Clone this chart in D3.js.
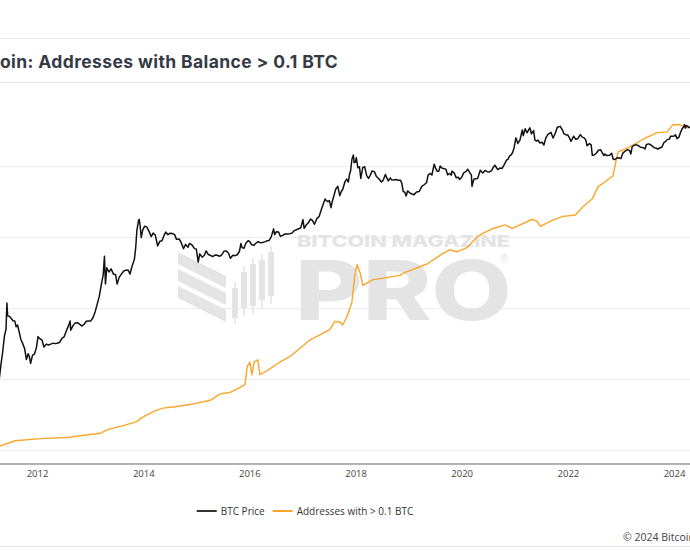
<!DOCTYPE html>
<html><head><meta charset="utf-8">
<script src="https://cdn.jsdelivr.net/npm/d3@7"></script>
<style>html,body{margin:0;padding:0;background:#fff;overflow:hidden}svg{display:block}</style>
</head><body><svg id="c" width="690" height="550"></svg>
<script>
// ---------- data ----------
const titleText = "Bitcoin: Addresses with Balance > 0.1 BTC";
const creditText = "© 2024 Bitcoin Magazine Pro";
const seriesNames = ["BTC Price", "Addresses with > 0.1 BTC"];
const yearTicks = [2012, 2014, 2016, 2018, 2020, 2022, 2024];
const addrTicks = [0, 1, 2, 3, 4]; // millions (right axis, gridlines)

const priceDates = [
"2010-07-18","2010-08-15","2010-09-15","2010-10-10","2010-11-06","2010-11-20","2010-12-15",
"2011-01-05","2011-01-25","2011-02-10","2011-02-25","2011-03-15","2011-04-01","2011-04-15","2011-04-28","2011-05-10","2011-05-22","2011-06-02","2011-06-08","2011-06-13","2011-06-25","2011-07-05","2011-07-20","2011-08-01","2011-08-10","2011-08-20","2011-09-01","2011-09-12","2011-09-25","2011-10-08","2011-10-20","2011-11-01","2011-11-10","2011-11-18","2011-12-01","2011-12-15","2011-12-28",
"2012-01-08","2012-01-20","2012-02-05","2012-02-18","2012-03-05","2012-03-20","2012-04-05","2012-04-20","2012-05-05","2012-05-20","2012-06-05","2012-06-20","2012-07-05","2012-07-20","2012-08-05","2012-08-16","2012-08-20","2012-09-05","2012-09-20","2012-10-05","2012-10-20","2012-11-05","2012-11-20","2012-12-05","2012-12-20",
"2013-01-05","2013-01-20","2013-02-05","2013-02-20","2013-03-05","2013-03-20","2013-04-01","2013-04-09","2013-04-16","2013-04-25","2013-05-10","2013-05-25","2013-06-10","2013-06-25","2013-07-05","2013-07-20","2013-08-05","2013-08-20","2013-09-05","2013-09-20","2013-10-02","2013-10-15","2013-11-01","2013-11-10","2013-11-18","2013-11-30","2013-12-04","2013-12-10","2013-12-18","2013-12-28",
"2014-01-10","2014-01-25","2014-02-10","2014-02-25","2014-03-10","2014-03-25","2014-04-10","2014-04-25","2014-05-10","2014-05-25","2014-06-05","2014-06-20","2014-07-05","2014-07-20","2014-08-05","2014-08-18","2014-09-05","2014-09-20","2014-10-05","2014-10-20","2014-11-05","2014-11-15","2014-12-01","2014-12-20",
"2015-01-01","2015-01-14","2015-01-25","2015-02-10","2015-02-25","2015-03-10","2015-03-25","2015-04-10","2015-04-25","2015-05-10","2015-05-25","2015-06-10","2015-06-25","2015-07-10","2015-07-25","2015-08-10","2015-08-24","2015-09-10","2015-09-25","2015-10-10","2015-10-25","2015-11-04","2015-11-12","2015-11-25","2015-12-10","2015-12-25",
"2016-01-05","2016-01-16","2016-02-01","2016-02-15","2016-03-01","2016-03-15","2016-04-01","2016-04-15","2016-05-01","2016-05-15","2016-05-30","2016-06-16","2016-06-23","2016-07-05","2016-07-20","2016-08-02","2016-08-20","2016-09-05","2016-09-20","2016-10-05","2016-10-20","2016-11-05","2016-11-20","2016-12-05","2016-12-20",
"2017-01-04","2017-01-12","2017-01-25","2017-02-10","2017-02-25","2017-03-10","2017-03-24","2017-04-10","2017-04-25","2017-05-10","2017-05-25","2017-06-05","2017-06-12","2017-06-25","2017-07-05","2017-07-16","2017-07-25","2017-08-05","2017-08-17","2017-09-01","2017-09-14","2017-09-25","2017-10-05","2017-10-20","2017-11-01","2017-11-12","2017-11-20","2017-11-28","2017-12-07","2017-12-17","2017-12-22","2017-12-30",
"2018-01-06","2018-01-17","2018-01-28","2018-02-06","2018-02-20","2018-03-05","2018-03-18","2018-03-31","2018-04-12","2018-04-24","2018-05-10","2018-05-25","2018-06-10","2018-06-28","2018-07-10","2018-07-25","2018-08-05","2018-08-14","2018-08-28","2018-09-05","2018-09-20","2018-10-05","2018-10-20","2018-11-05","2018-11-15","2018-11-25","2018-12-05","2018-12-15","2018-12-25",
"2019-01-10","2019-01-28","2019-02-07","2019-02-25","2019-03-15","2019-04-02","2019-04-20","2019-05-05","2019-05-15","2019-05-30","2019-06-10","2019-06-26","2019-07-05","2019-07-16","2019-07-28","2019-08-06","2019-08-20","2019-09-05","2019-09-15","2019-09-26","2019-10-10","2019-10-22","2019-10-26","2019-11-10","2019-11-25","2019-12-10","2019-12-17","2019-12-31",
"2020-01-15","2020-02-01","2020-02-12","2020-02-28","2020-03-08","2020-03-12","2020-03-25","2020-04-05","2020-04-20","2020-05-08","2020-05-25","2020-06-10","2020-06-25","2020-07-10","2020-07-25","2020-08-05","2020-08-17","2020-09-05","2020-09-20","2020-10-05","2020-10-21","2020-11-05","2020-11-15","2020-11-25","2020-12-05","2020-12-16","2020-12-27",
"2021-01-08","2021-01-22","2021-02-05","2021-02-21","2021-02-28","2021-03-13","2021-03-25","2021-04-14","2021-04-25","2021-05-10","2021-05-19","2021-05-30","2021-06-10","2021-06-22","2021-07-05","2021-07-20","2021-08-01","2021-08-15","2021-09-06","2021-09-21","2021-10-05","2021-10-20","2021-11-09","2021-11-25","2021-12-04","2021-12-20","2021-12-31",
"2022-01-10","2022-01-22","2022-02-10","2022-02-24","2022-03-10","2022-03-28","2022-04-10","2022-04-25","2022-05-05","2022-05-12","2022-05-30","2022-06-10","2022-06-18","2022-07-01","2022-07-15","2022-07-30","2022-08-13","2022-08-25","2022-09-06","2022-09-13","2022-09-25","2022-10-15","2022-10-29","2022-11-09","2022-11-21","2022-12-05","2022-12-20",
"2023-01-01","2023-01-14","2023-01-30","2023-02-15","2023-03-01","2023-03-10","2023-03-20","2023-04-13","2023-04-28","2023-05-15","2023-06-01","2023-06-15","2023-06-25","2023-07-13","2023-07-30","2023-08-17","2023-09-01","2023-09-11","2023-09-25","2023-10-10","2023-10-23","2023-11-05","2023-11-15","2023-12-01","2023-12-08","2023-12-20",
"2024-01-01","2024-01-11","2024-01-22","2024-02-05","2024-02-15","2024-02-28","2024-03-05","2024-03-14","2024-03-20","2024-03-27","2024-04-05","2024-04-13","2024-04-20"
];
const priceValues = [
0.09,0.07,0.06,0.10,0.39,0.28,0.25,
0.30,0.42,1.05,0.90,0.88,0.78,1.0,2.0,3.5,7.0,9.5,29.6,17,16.5,15.4,13.6,13.5,10.5,11.3,8.2,6.0,5.0,4.0,2.5,3.2,2.8,2.1,3.0,3.2,4.2,
6.8,6.2,5.8,4.3,4.9,4.7,4.9,5.1,5.0,5.1,5.3,6.3,6.7,8.6,11.0,13.5,9.0,11.0,12.4,12.5,11.7,10.8,11.7,13.3,13.5,
13.5,15.5,20.5,29.5,40,70,104,230,68,138,115,132,105,102,68,92,106,120,125,124,105,145,200,330,700,1100,1150,900,520,720,
850,830,680,540,630,580,360,440,450,580,660,590,630,620,590,480,490,410,320,385,340,400,380,320,
315,178,255,220,237,290,247,237,226,242,239,229,243,284,290,265,210,240,235,245,285,400,335,325,415,455,
432,380,372,405,433,415,417,430,450,455,530,760,590,670,665,545,580,608,610,612,630,705,730,765,800,
1140,780,890,995,1170,1100,930,1200,1300,1750,2300,2800,2650,2500,2620,1920,2550,3230,4300,4900,3250,3900,4300,6000,6700,5900,8200,9800,16000,19300,13800,14000,
17200,11000,11500,6900,11200,11500,7900,6900,7900,9600,9300,7500,6800,5900,6400,8200,7000,6200,7100,6500,6450,6600,6400,6400,5600,3900,3800,3200,4000,
3650,3450,3400,3830,3900,4900,5300,5800,8000,8600,8000,12900,11000,9500,9500,11900,10800,10600,10300,8100,8600,8000,9500,8800,7100,7300,6600,7200,
8800,9400,10300,8700,8000,4900,6700,6800,6900,9900,8800,9800,9300,9200,9700,11200,12300,10200,10900,10700,12800,15500,16000,18500,19100,21300,26500,
40800,32000,37000,57500,45000,61000,51000,63500,49000,56000,37000,35600,37000,32500,34000,29800,40000,47000,52000,40500,49000,65000,67500,57000,49000,46500,46300,
41800,35000,44000,38300,39400,47100,42200,40400,36500,29000,31800,30100,19000,19300,20800,23800,24400,21500,18800,20200,18800,19100,20800,16000,15800,17100,16900,
16600,20900,22800,24300,23600,20200,28200,30400,29300,27200,26800,25100,30500,31400,29300,26600,25900,25100,26200,27400,33000,35000,37800,38700,44000,43600,
44200,46600,39500,42700,52000,62500,63800,73000,62500,69900,67800,64000,64900
];

const addrDates = [
"2010-07-18","2011-01-08","2011-04-20","2011-08-04","2012-01-22","2012-08-14","2012-10-23","2013-03-10","2013-05-05","2013-08-28",
"2013-11-17","2013-12-24","2014-03-22","2014-05-15","2014-08-08","2014-11-18","2015-04-06","2015-06-14","2015-08-22","2015-10-27",
"2015-12-02","2015-12-17","2016-01-04","2016-01-19","2016-02-03","2016-02-28","2016-03-14","2016-04-19","2016-07-31","2016-10-08",
"2016-12-13","2017-02-21","2017-05-01","2017-07-09","2017-08-11","2017-09-16","2017-10-05","2017-11-03","2017-12-06","2017-12-28",
"2018-01-11","2018-02-02","2018-02-20","2018-05-01","2018-07-09","2018-11-03","2018-11-25","2019-05-08","2019-08-26","2019-10-12",
"2019-11-29","2020-02-06","2020-04-16","2020-05-26","2020-07-13","2020-08-04","2020-10-27","2020-12-13","2021-02-06","2021-05-01",
"2021-06-03","2021-06-25","2021-09-21","2021-11-29","2022-02-21","2022-04-16","2022-06-18","2022-07-28","2022-09-28","2022-11-07",
"2022-11-29","2022-12-13","2023-03-04","2023-06-03","2023-09-06","2023-11-14","2023-12-24","2024-02-10","2024-04-02","2024-04-20"
];
const addrValues = [ // millions of addresses
0.00,0.02,0.056,0.13,0.16,0.18,0.20,0.235,0.29,0.35,
0.40,0.46,0.55,0.59,0.61,0.64,0.70,0.79,0.81,0.88,
0.92,1.17,1.24,1.06,1.24,1.27,1.06,1.10,1.24,1.32,
1.43,1.55,1.62,1.70,1.81,1.80,1.76,1.88,2.07,2.49,
2.61,2.49,2.32,2.40,2.42,2.46,2.49,2.62,2.77,2.82,
2.79,2.85,3.00,3.05,3.10,3.12,3.17,3.12,3.17,3.25,
3.22,3.15,3.24,3.29,3.31,3.43,3.54,3.71,3.80,3.86,
4.08,4.20,4.27,4.38,4.47,4.48,4.58,4.58,4.54,4.54
];

// ---------- chart ----------
const W = 690, H = 550;
const svg = d3.select("#c");
const parse = d3.utcParse("%Y-%m-%d");
const yearDate = y => new Date(Date.UTC(y, 0, 1));

const x = d3.scaleUtc().domain([yearDate(2012), yearDate(2024)]).range([37, 674]);
const yPrice = d3.scaleLog().domain([1, 1e5]).range([380.4, 117.4]);
const yAddr = d3.scaleLinear().domain([0, 4]).range([450, 166]);

const plotTop = 83, plotBottom = 464;

const priceData = priceDates.map((d, i) => ({ date: parse(d), v: priceValues[i] }));
const addrData = addrDates.map((d, i) => ({ date: parse(d), v: addrValues[i] }));

// frame lines
const frame = [38.5, 82.5, 546.5];
svg.selectAll("line.frame").data(frame).join("line")
  .attr("class", "frame").attr("x1", 0).attr("x2", W)
  .attr("y1", d => d).attr("y2", d => d)
  .attr("stroke", "#e6e6e6").attr("stroke-width", 1.2);

// title: the page is cropped so the first letters fall off the left edge, as in the reference
const title = svg.append("text").text(titleText)
  .attr("x", 338).attr("y", 68).attr("text-anchor", "end")
  .attr("font-family", "Inter, 'Open Sans', sans-serif")
  .attr("font-weight", 700).attr("font-size", 17.5).attr("fill", "#343b44");
{
  const n = titleText.length;
  const visW = title.node().getSubStringLength(4, n - 4);
  const ls = (338 - visW) / (n - 4);
  title.attr("letter-spacing", ls.toFixed(3));
}

// gridlines from right (address) axis
svg.append("g").selectAll("line").data(addrTicks).join("line")
  .attr("x1", 0).attr("x2", W)
  .attr("y1", d => Math.round(yAddr(d)) + 0.5).attr("y2", d => Math.round(yAddr(d)) + 0.5)
  .attr("stroke", "#ececec").attr("stroke-width", 1);

// watermark
const wm = svg.append("g").attr("fill", "#e4e4e4");
const bands = [0, 17, 34];
wm.selectAll("path.band").data(bands).join("path").attr("class", "band")
  .attr("d", o => `M178,${252 + o} L226,${276 + o} L226,${288 + o} L178,${264 + o} Z`);
const candles = [
  { cx: 235, wt: 282, bt: 288, bb: 318, wb: 324 },
  { cx: 244, wt: 266, bt: 272, bb: 308, wb: 316 },
  { cx: 253, wt: 258, bt: 264, bb: 306, wb: 314 },
  { cx: 262, wt: 254, bt: 260, bb: 300, wb: 308 },
  { cx: 271, wt: 246, bt: 252, bb: 296, wb: 304 }
];
candles.forEach(c => {
  wm.append("rect").attr("x", c.cx - 0.75).attr("y", c.wt).attr("width", 1.5).attr("height", c.wb - c.wt);
  wm.append("rect").attr("x", c.cx - 3).attr("y", c.bt).attr("width", 6).attr("height", c.bb - c.bt);
});
wm.append("text").text("BITCOIN MAGAZINE")
  .attr("x", 297).attr("y", 247).attr("font-family", "Inter, 'Open Sans', sans-serif")
  .attr("font-weight", 800).attr("font-size", 16)
  .attr("textLength", 213).attr("lengthAdjust", "spacingAndGlyphs");
wm.append("text").text("PRO")
  .attr("x", 295).attr("y", 320).attr("font-family", "Inter, 'Open Sans', sans-serif")
  .attr("font-weight", 800).attr("font-size", 82)
  .attr("textLength", 217).attr("lengthAdjust", "spacingAndGlyphs");
wm.append("text").text("®")
  .attr("x", 500).attr("y", 262).attr("font-family", "sans-serif").attr("font-size", 11);

// clip
svg.append("clipPath").attr("id", "plotclip").append("rect")
  .attr("x", 0).attr("y", plotTop).attr("width", W).attr("height", plotBottom - plotTop);

const lineAddr = d3.line().x(d => x(d.date)).y(d => yAddr(d.v));
const linePrice = d3.line().x(d => x(d.date)).y(d => yPrice(d.v));

const plot = svg.append("g").attr("clip-path", "url(#plotclip)");
plot.append("path").datum(addrData).attr("d", lineAddr)
  .attr("fill", "none").attr("stroke", "#fba52a").attr("stroke-width", 1.4)
  .attr("stroke-linejoin", "round");
plot.append("path").datum(priceData).attr("d", linePrice)
  .attr("fill", "none").attr("stroke", "#111").attr("stroke-width", 1.5)
  .attr("stroke-linejoin", "round");

// x axis
svg.append("line").attr("x1", 0).attr("x2", W).attr("y1", plotBottom).attr("y2", plotBottom)
  .attr("stroke", "#9a9a9a").attr("stroke-width", 1.6);
const xAxis = d3.axisBottom(x).tickValues(yearTicks.map(yearDate))
  .tickFormat(d3.utcFormat("%Y")).tickSize(0).tickPadding(6.5);
const gx = svg.append("g").attr("transform", `translate(0,${plotBottom})`).call(xAxis);
gx.select(".domain").remove();
gx.selectAll("text").attr("font-family", "'Open Sans', sans-serif").attr("font-size", 9.5).attr("fill", "#444");

// legend
const legend = svg.append("g");
const colors = ["#333", "#fba52a"];
let lx = 0;
seriesNames.forEach((name, i) => {
  const g = legend.append("g");
  g.append("line").attr("x1", 0).attr("x2", 20).attr("y1", 0).attr("y2", 0)
    .attr("stroke", colors[i]).attr("stroke-width", 2);
  const t = g.append("text").text(name).attr("x", 24).attr("y", 0).attr("dy", "0.35em")
    .attr("font-family", "'Open Sans', sans-serif").attr("font-size", 10).attr("fill", "#333");
  const w = 24 + t.node().getComputedTextLength();
  g.attr("transform", `translate(${lx},0)`);
  lx += w + 8;
});
const totalW = lx - 8;
legend.attr("transform", `translate(${305 - totalW / 2},511)`);

// credit (runs off the right edge, as in the reference)
svg.append("text").text(creditText).attr("x", 623).attr("y", 541)
  .attr("font-family", "'Open Sans', sans-serif").attr("font-size", 10.5).attr("fill", "#444");
</script>
</body></html>
